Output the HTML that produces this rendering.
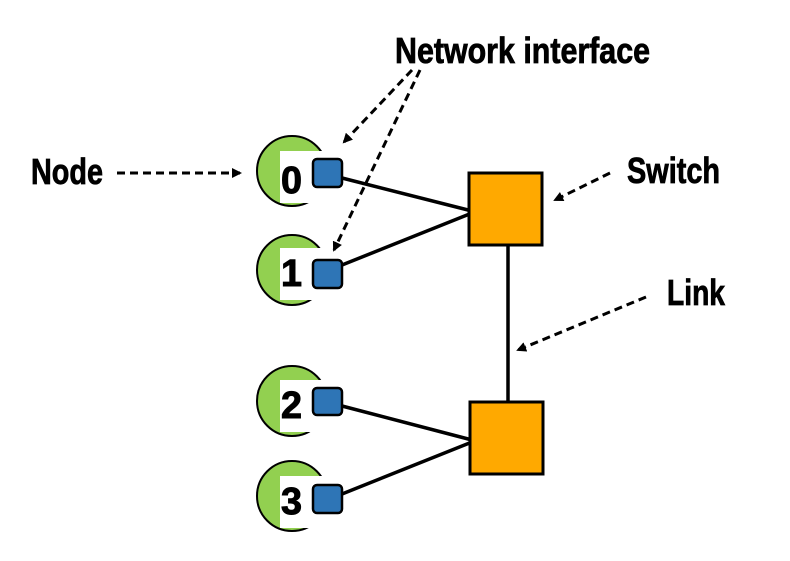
<!DOCTYPE html>
<html><head><meta charset="utf-8"><style>
html,body{margin:0;padding:0;background:#fff;}
svg{display:block;}
text{font-family:"Liberation Sans Narrow","Liberation Sans",sans-serif;font-weight:bold;fill:#000;stroke:#000;stroke-width:0.8;}
.num{font-family:"Liberation Sans",sans-serif;font-size:38px;stroke-width:1;}
</style></head><body>
<svg width="790" height="561" viewBox="0 0 790 561" xmlns="http://www.w3.org/2000/svg">
<defs>
<marker id="ah" markerWidth="10" markerHeight="10" refX="8" refY="5" orient="auto" markerUnits="userSpaceOnUse">
<path d="M0,0 L10,5 L0,10 Z" fill="#000"/>
</marker>
</defs>
<g stroke="#000" stroke-width="3.5" fill="none">
<line x1="342" y1="178" x2="472" y2="211"/>
<line x1="342" y1="265" x2="472" y2="213"/>
<line x1="342" y1="406" x2="472" y2="440"/>
<line x1="342" y1="494" x2="472" y2="442"/>
<line x1="508" y1="246" x2="508" y2="402"/>
</g>
<g>
<circle cx="292" cy="171" r="35" fill="#92d050" stroke="#000" stroke-width="2"/>
<rect x="280" y="151" width="52" height="52" fill="#fff"/>
<circle cx="292" cy="270" r="35" fill="#92d050" stroke="#000" stroke-width="2"/>
<rect x="280" y="248" width="52" height="52" fill="#fff"/>
<circle cx="292" cy="401" r="35" fill="#92d050" stroke="#000" stroke-width="2"/>
<rect x="280" y="380" width="52" height="52" fill="#fff"/>
<circle cx="292" cy="496" r="35" fill="#92d050" stroke="#000" stroke-width="2"/>
<rect x="280" y="476" width="52" height="52" fill="#fff"/>
</g>
<text class="num" x="281" y="193" textLength="21" lengthAdjust="spacingAndGlyphs">0</text>
<text class="num" x="281" y="286" textLength="21" lengthAdjust="spacingAndGlyphs">1</text>
<text class="num" x="281" y="418" textLength="21" lengthAdjust="spacingAndGlyphs">2</text>
<text class="num" x="281" y="514" textLength="21" lengthAdjust="spacingAndGlyphs">3</text>
<g fill="#2e75b6" stroke="#000" stroke-width="2.5">
<rect x="313" y="159" width="29" height="28" rx="4"/>
<rect x="313" y="260" width="29" height="28" rx="4"/>
<rect x="313" y="388" width="29" height="27" rx="4"/>
<rect x="313" y="485" width="29" height="28" rx="4"/>
</g>
<g fill="#ffa900" stroke="#000" stroke-width="3">
<rect x="469" y="173" width="73" height="72"/>
<rect x="470" y="402" width="73" height="72"/>
</g>
<g stroke="#000" stroke-width="3" stroke-dasharray="8,5" fill="none" marker-end="url(#ah)">
<line x1="117" y1="173" x2="240" y2="173"/>
<line x1="412" y1="70" x2="344" y2="142"/>
<line x1="420" y1="70" x2="334" y2="250"/>
<line x1="610" y1="173" x2="555" y2="200"/>
<line x1="646" y1="297" x2="518" y2="350"/>
</g>
<text x="395" y="63" font-size="36" textLength="255" lengthAdjust="spacingAndGlyphs">Network interface</text>
<text x="31" y="184" font-size="36" textLength="72" lengthAdjust="spacingAndGlyphs">Node</text>
<text x="627" y="183" font-size="36" textLength="93" lengthAdjust="spacingAndGlyphs">Switch</text>
<text x="667" y="305" font-size="36" textLength="58" lengthAdjust="spacingAndGlyphs">Link</text>
</svg>
</body></html>
